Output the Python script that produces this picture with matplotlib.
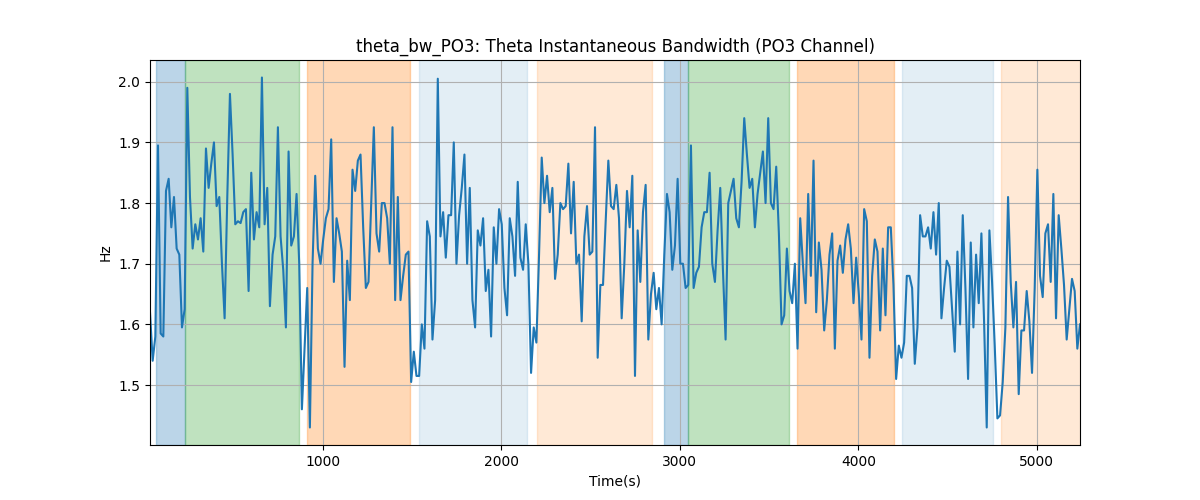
import matplotlib
matplotlib.use("Agg")
import matplotlib.pyplot as plt
import numpy as np

t_start, t_end = 31, 5242

bw_values = [
    1.62, 1.54, 1.58, 1.895, 1.585, 1.58, 1.82, 1.84, 1.76, 1.81, 1.725, 1.715, 1.595, 1.625, 1.99, 1.81,
    1.725, 1.765, 1.74, 1.775, 1.72, 1.89, 1.825, 1.865, 1.90, 1.795, 1.81, 1.70, 1.61, 1.81, 1.98, 1.88,
    1.765, 1.77, 1.767, 1.785, 1.79, 1.655, 1.85, 1.74, 1.785, 1.76, 2.007, 1.765, 1.825, 1.63,
    1.715, 1.745, 1.925, 1.745, 1.69, 1.595, 1.885, 1.73, 1.745, 1.815, 1.70, 1.46, 1.56, 1.66, 1.43,
    1.70, 1.845, 1.725, 1.70, 1.74, 1.775, 1.79, 1.905, 1.67, 1.775, 1.75, 1.72, 1.53, 1.705, 1.64,
    1.855, 1.82, 1.87, 1.88, 1.76, 1.66, 1.67, 1.80, 1.925, 1.75, 1.72, 1.80, 1.80, 1.775, 1.70,
    1.925, 1.64, 1.81, 1.64, 1.68, 1.715, 1.72, 1.505, 1.555, 1.515, 1.515, 1.60, 1.56, 1.77, 1.745,
    1.575, 1.64, 2.005, 1.745, 1.785, 1.71, 1.78, 1.78, 1.90, 1.70, 1.78, 1.825, 1.88, 1.70, 1.825,
    1.64, 1.595, 1.755, 1.73, 1.775, 1.655, 1.69, 1.58, 1.76, 1.70, 1.79, 1.765, 1.66, 1.615, 1.775,
    1.745, 1.68, 1.835, 1.71, 1.69, 1.765, 1.70, 1.52, 1.595, 1.57, 1.715, 1.875, 1.80, 1.845, 1.785,
    1.825, 1.675, 1.715, 1.80, 1.79, 1.795, 1.865, 1.75, 1.835, 1.70, 1.715, 1.605, 1.745, 1.795, 1.715,
    1.72, 1.925, 1.545, 1.665, 1.665, 1.77, 1.87, 1.795, 1.79, 1.83, 1.775, 1.61, 1.70, 1.82, 1.76,
    1.845, 1.515, 1.755, 1.67, 1.785, 1.83, 1.575, 1.65, 1.685, 1.625, 1.66, 1.60, 1.715, 1.815, 1.785,
    1.69, 1.73, 1.84, 1.70, 1.70, 1.66, 1.665, 1.895, 1.66, 1.685, 1.695, 1.76, 1.785, 1.785, 1.85,
    1.70, 1.67, 1.755, 1.825, 1.69, 1.575, 1.80, 1.82, 1.84, 1.775, 1.76, 1.835, 1.94, 1.88, 1.825,
    1.84, 1.76, 1.815, 1.85, 1.885, 1.80, 1.94, 1.80, 1.79, 1.86, 1.75, 1.60, 1.615, 1.725, 1.655,
    1.635, 1.70, 1.56, 1.775, 1.70, 1.635, 1.815, 1.68, 1.87, 1.62, 1.735, 1.69, 1.59, 1.64, 1.715,
    1.75, 1.56, 1.705, 1.73, 1.685, 1.74, 1.765, 1.725, 1.635, 1.71, 1.65, 1.575, 1.79, 1.77, 1.545,
    1.68, 1.74, 1.72, 1.59, 1.725, 1.615, 1.76, 1.76, 1.665, 1.51, 1.565, 1.545, 1.57, 1.68, 1.68,
    1.66, 1.535, 1.595, 1.78, 1.745, 1.745, 1.76, 1.725, 1.785, 1.715, 1.80, 1.61, 1.66, 1.705, 1.695,
    1.625, 1.555, 1.72, 1.60, 1.78, 1.66, 1.51, 1.735, 1.595, 1.715, 1.635, 1.75, 1.605, 1.43, 1.755,
    1.67, 1.565, 1.445, 1.45, 1.505, 1.595, 1.81, 1.67, 1.595, 1.67, 1.485, 1.59, 1.59, 1.655, 1.605,
    1.52, 1.66, 1.855, 1.68, 1.645, 1.75, 1.765, 1.67, 1.815, 1.61, 1.78, 1.725, 1.665, 1.575, 1.625,
    1.675, 1.655, 1.56, 1.60,
]

# shaded segments
span_starts = [65, 227, 910, 1537, 2198, 2911, 3045, 3654, 4247, 4802]
span_ends = [227, 865, 1487, 2142, 2846, 3045, 3609, 4197, 4755, 5400]
span_colors = ['C0', 'C2', 'C1', 'C0', 'C1', 'C0', 'C2', 'C1', 'C0', 'C1']
span_alphas = [0.3, 0.3, 0.3, 0.12, 0.17, 0.3, 0.3, 0.3, 0.12, 0.17]

times = np.linspace(t_start, t_end, len(bw_values))

fig, ax = plt.subplots(figsize=(12, 5), dpi=100)
for s, e, c, a in zip(span_starts, span_ends, span_colors, span_alphas):
    ax.axvspan(s, e, color=c, alpha=a)
ax.plot(times, bw_values, color='C0')
ax.set_xlim(t_start, t_end)
ax.grid(True)
ax.set_title('theta_bw_PO3: Theta Instantaneous Bandwidth (PO3 Channel)')
ax.set_xlabel('Time(s)')
ax.set_ylabel('Hz')

fig.savefig('out.png')
